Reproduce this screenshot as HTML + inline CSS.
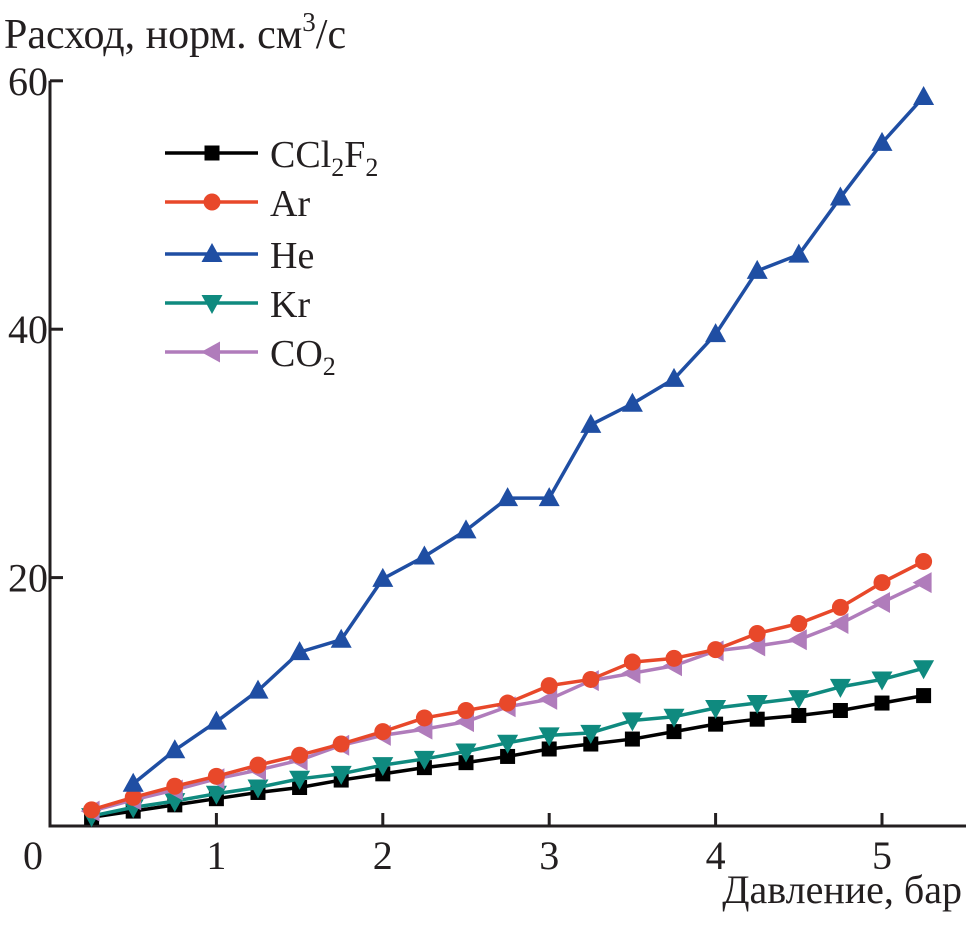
<!DOCTYPE html>
<html><head><meta charset="utf-8"><style>
body{margin:0;background:#fff}
svg text{font-family:"Liberation Serif",serif;fill:#231f20}
</style></head><body>
<svg id="chart" width="966" height="920" viewBox="0 0 966 920" xmlns="http://www.w3.org/2000/svg">
<g id="axes"></g>
<g id="series"></g>
<g id="legend"></g>
<text x="4" y="48" font-size="42">Расход, норм. см<tspan font-size="27" dy="-17">3</tspan><tspan dy="17">/с</tspan></text>
<text x="962" y="903" font-size="40" text-anchor="end">Давление, бар</text>
</svg>
<script>
const pressures=[0.25,0.5,0.75,1,1.25,1.5,1.75,2,2.25,2.5,2.75,3,3.25,3.5,3.75,4,4.25,4.5,4.75,5,5.25];
const ccl2f2=[0.7,1.2,1.7,2.2,2.7,3.1,3.7,4.2,4.7,5.1,5.6,6.2,6.6,7.0,7.6,8.2,8.6,8.9,9.3,9.9,10.5];
const ar=[1.3,2.3,3.2,4.0,4.9,5.7,6.6,7.6,8.7,9.3,9.9,11.3,11.8,13.2,13.5,14.2,15.5,16.3,17.6,19.6,21.3];
const he=[null,3.4,6.1,8.4,10.9,14.0,15.0,19.9,21.7,23.8,26.4,26.4,32.3,34.0,36.0,39.6,44.7,46.0,50.6,55.0,58.7];
const kr=[0.8,1.5,2.0,2.6,3.1,3.8,4.2,4.9,5.4,6.0,6.7,7.3,7.5,8.5,8.8,9.5,9.9,10.3,11.2,11.8,12.7];
const co2=[1.2,2.1,2.9,3.8,4.5,5.3,6.5,7.3,7.8,8.4,9.6,10.2,11.7,12.3,12.9,14.1,14.5,15.0,16.3,18.0,19.6];
const xTicks=[1,2,3,4,5];
const yTicks=[20,40,60];
const NS="http://www.w3.org/2000/svg";
const X=v=>50+v*166.4, Y=v=>826-v*12.42;
function mk(tag,at,parent){const e=document.createElementNS(NS,tag);for(const k in at)e.setAttribute(k,at[k]);parent.appendChild(e);return e;}
const axes=document.getElementById('axes');
let a=mk('path',{d:`M50,${Y(60)}V826H966`,fill:'none',stroke:'#231f20','stroke-width':3},axes);


xTicks.forEach(t=>{
 let l=mk('line',{x1:X(t),x2:X(t),y1:826,y2:813,stroke:'#231f20','stroke-width':3},axes);
 
 
 let tx=mk('text',{x:X(t),y:869,'font-size':40,'text-anchor':'middle'},axes);tx.textContent=t;
 
 
});
yTicks.forEach(t=>{
 let l=mk('line',{x1:50,x2:63,y1:Y(t),y2:Y(t),stroke:'#231f20','stroke-width':3},axes);
 
 
 let tx=mk('text',{x:48,y:Y(t)+14,'font-size':40,'text-anchor':'end'},axes);tx.textContent=t;
 
 
});
let z=mk('text',{x:33,y:869,'font-size':40,'text-anchor':'middle'},axes);z.textContent='0';


function marker(kind,x,y,c,g){
 let e;
 if(kind==='sq')e=mk('rect',{x:x-7.5,y:y-7.5,width:15,height:15,fill:c},g);
 else if(kind==='ci')e=mk('circle',{cx:x,cy:y,r:8.5,fill:c},g);
 else if(kind==='up')e=mk('polygon',{points:`${x},${y-11} ${x-10.5},${y+8} ${x+10.5},${y+8}`,fill:c},g);
 else if(kind==='dn')e=mk('polygon',{points:`${x},${y+11} ${x-10.5},${y-8} ${x+10.5},${y-8}`,fill:c},g);
 else e=mk('polygon',{points:`${x-11},${y} ${x+8},${y-10.5} ${x+8},${y+10.5}`,fill:c},g);
 return e;
}
const S=[
 {name:'ccl2f2',vals:ccl2f2,c:'#000',m:'sq',lab:'CCl<tspan font-size="26" dy="9">2</tspan><tspan dy="-9">F</tspan><tspan font-size="26" dy="9">2</tspan>'},
 {name:'ar',vals:ar,c:'#e8482a',m:'ci',lab:'Ar'},
 {name:'he',vals:he,c:'#1f4ea3',m:'up',lab:'He'},
 {name:'kr',vals:kr,c:'#0f8a7f',m:'dn',lab:'Kr'},
 {name:'co2',vals:co2,c:'#b07cbb',m:'lt',lab:'CO<tspan font-size="26" dy="9">2</tspan>'}
];
const sg=document.getElementById('series'), lg=document.getElementById('legend');
const order=['ccl2f2','kr','co2','ar','he'];
order.forEach(n=>{
 const s=S.find(q=>q.name===n);
 const g=mk('g',{},sg);
 
 
 const pts=[];s.vals.forEach((v,i)=>{if(v!==null)pts.push([X(pressures[i]),Y(v)]);});
 let p=mk('polyline',{points:pts.map(q=>q.join(',')).join(' '),fill:'none',stroke:s.c,'stroke-width':3.5,'stroke-linejoin':'round'},g);
 
 
 pts.forEach(q=>{let m=marker(s.m,q[0],q[1],s.c,g);
  
  });
});
const ly=[153,202,254,303,352];
S.forEach((s,i)=>{
 const g=mk('g',{},lg);
 
 
 mk('line',{x1:165,x2:258,y1:ly[i],y2:ly[i],stroke:s.c,'stroke-width':3.5},g);
 marker(s.m,212,ly[i],s.c,g);
 const t=mk('text',{x:270,y:ly[i]+14,'font-size':38},g);t.innerHTML=s.lab;
});
</script>
</body></html>
